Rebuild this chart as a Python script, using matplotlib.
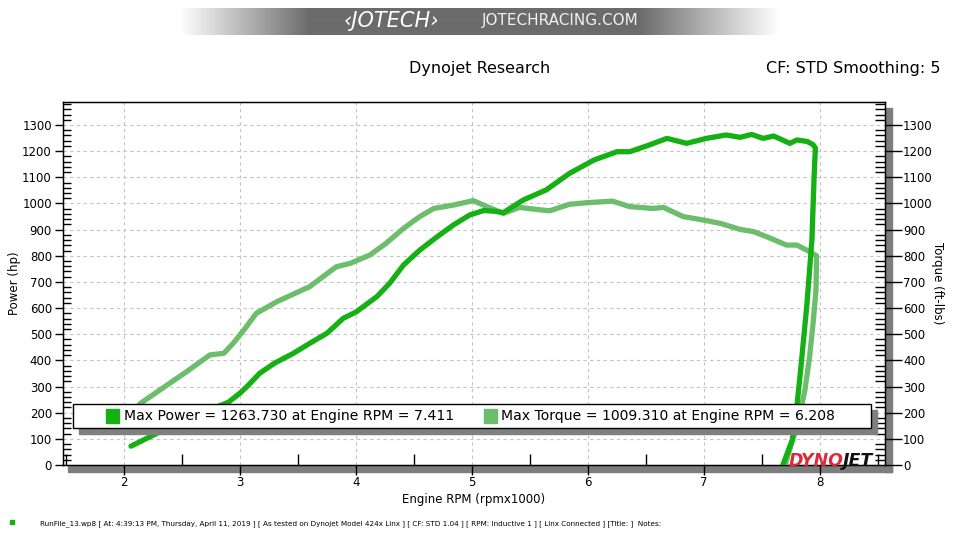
import numpy as np
import matplotlib
matplotlib.use("Agg")
import matplotlib.pyplot as plt
from matplotlib.patches import Rectangle
from matplotlib.ticker import MultipleLocator, FixedLocator

# ---------------- data ----------------
rpm_power = [2.06, 2.31, 2.50, 2.80, 2.90, 3.00, 3.06, 3.17, 3.30, 3.46, 3.60, 3.75,
             3.89, 4.00, 4.18, 4.29, 4.41, 4.55, 4.70, 4.84, 4.98, 5.10, 5.20, 5.27,
             5.44, 5.64, 5.84, 6.05, 6.25, 6.36, 6.53, 6.68, 6.85, 7.02, 7.19, 7.31,
             7.41, 7.51, 7.60, 7.74, 7.80, 7.89, 7.94, 7.96, 7.95, 7.93, 7.885, 7.83,
             7.80, 7.76, 7.68]
power_hp = [72, 127, 170, 222, 240, 275, 300, 351, 390, 427, 465, 504,
            561, 585, 644, 695, 765, 822, 873, 918, 956, 973, 970, 965,
            1013, 1052, 1115, 1166, 1198, 1198, 1224, 1249, 1230, 1249, 1262, 1253,
            1264, 1249, 1258, 1230, 1243, 1237, 1225, 1212, 1115, 860, 605, 351,
            223, 96, 0]

rpm_torque = [2.06, 2.14, 2.31, 2.54, 2.74, 2.86, 2.94, 3.04, 3.14, 3.32, 3.60, 3.83,
              3.95, 4.12, 4.26, 4.41, 4.55, 4.67, 4.84, 5.01, 5.13, 5.27, 5.41, 5.56,
              5.67, 5.84, 5.99, 6.21, 6.36, 6.56, 6.65, 6.82, 6.99, 7.14, 7.31, 7.43,
              7.54, 7.71, 7.80, 7.91, 7.97, 7.965, 7.94, 7.91, 7.87, 7.81, 7.72, 7.70]
torque_ftlb = [185, 235, 287, 357, 421, 427, 465, 520, 580, 625, 682, 758,
               771, 803, 848, 905, 950, 981, 994, 1011, 988, 962, 985, 977,
               972, 997, 1003, 1009, 988, 981, 985, 950, 937, 924, 901, 892,
               873, 841, 841, 816, 800, 669, 542, 414, 287, 160, 32, 0]

x_ticks = [2, 3, 4, 5, 6, 7, 8]
y_ticks = list(range(0, 1400, 100))

legend_power = "Max Power = 1263.730 at Engine RPM = 7.411"
legend_torque = "Max Torque = 1009.310 at Engine RPM = 6.208"
footnote = ("RunFile_13.wp8 [ At: 4:39:13 PM, Thursday, April 11, 2019 ] "
            "[ As tested on Dynojet Model 424x Linx ] [ CF: STD 1.04 ] "
            "[ RPM: Inductive 1 ] [ Linx Connected ] [Title: ]  Notes:")

# ---------------- style ----------------
C_POWER = "#14b014"
C_TORQUE = "#6cbd6c"
W, H = 960, 540

plt.rcParams["font.family"] = ["DejaVu Sans"]
fig = plt.figure(figsize=(9.6, 5.4), dpi=100)
fig.patch.set_facecolor("white")

def fx(px):
    return px / W

def fy(py):
    return 1 - py / H

ax_l, ax_r, ax_t, ax_b = 63, 885, 101.5, 465
# shadows behind the axes
fig.patches.append(Rectangle((fx(68), fy(472)), fx(892) - fx(68), (472 - 465) / H,
                             transform=fig.transFigure, color="#7d7d7d", zorder=0))
fig.patches.append(Rectangle((fx(885), fy(472)), (892 - 885) / W, (472 - 108) / H,
                             transform=fig.transFigure, color="#7d7d7d", zorder=0))

ax = fig.add_axes([fx(ax_l), fy(ax_b), (ax_r - ax_l) / W, (ax_b - ax_t) / H])
ax.set_zorder(2)
ax.set_xlim(1.474, 8.56)
ax.set_ylim(0, 1390)

ax.plot(rpm_torque, torque_ftlb, color=C_TORQUE, lw=3.8, solid_joinstyle="round",
        solid_capstyle="round", zorder=3)
ax.plot(rpm_power, power_hp, color=C_POWER, lw=3.8, solid_joinstyle="round",
        solid_capstyle="round", zorder=4)

# grid
for xv in x_ticks:
    ax.axvline(xv, color="#c4c4c4", lw=0.8, ls=(0, (3, 3)), zorder=1)
for yv in y_ticks[1:]:
    ax.axhline(yv, color="#c4c4c4", lw=0.8, ls=(0, (3, 3)), zorder=1)

for s in ax.spines.values():
    s.set_color("black")
    s.set_linewidth(1.0)

ax.xaxis.set_major_locator(FixedLocator(x_ticks))
ax.xaxis.set_minor_locator(FixedLocator([1.5, 2.5, 3.5, 4.5, 5.5, 6.5, 7.5, 8.5]))
ax.yaxis.set_major_locator(FixedLocator(y_ticks))
ax.yaxis.set_minor_locator(MultipleLocator(20))
ax.tick_params(axis="x", which="major", direction="out", length=7, width=1,
               labelsize=8.5, pad=1)
ax.tick_params(axis="x", which="minor", direction="in", length=8, width=1)
ax.tick_params(axis="y", which="major", direction="out", length=6, width=1,
               labelsize=8.5, pad=2)
ax.tick_params(axis="y", which="minor", direction="in", length=6, width=1)
ax.set_xlabel("Engine RPM (rpmx1000)", fontsize=8.5, labelpad=3)
ax.set_ylabel("Power (hp)", fontsize=8.5, labelpad=1)

ax2 = ax.twinx()
ax2.set_ylim(ax.get_ylim())
ax2.yaxis.set_major_locator(FixedLocator(y_ticks))
ax2.yaxis.set_minor_locator(MultipleLocator(20))
ax2.tick_params(axis="y", which="major", direction="out", length=12, width=1,
                labelsize=8.5, pad=1)
ax2.tick_params(axis="y", which="minor", direction="in", length=7, width=1)
ax2.set_ylabel("Torque (ft-lbs)", fontsize=8.5, rotation=270, labelpad=8)
for s in ax2.spines.values():
    s.set_color("black")

# legend box with shadow (figure coords)
lx0, lx1, ly0, ly1 = 73, 871, 404, 427.5
fig.patches.append(Rectangle((fx(lx0 + 6), fy(ly1 + 6)), (lx1 - lx0) / W, (ly1 - ly0) / H,
                             transform=fig.transFigure, color="#808080", zorder=5))
fig.patches.append(Rectangle((fx(lx0), fy(ly1)), (lx1 - lx0) / W, (ly1 - ly0) / H,
                             transform=fig.transFigure, facecolor="white",
                             edgecolor="black", lw=1.0, zorder=6))
ymid = fy((ly0 + ly1) / 2)
fig.patches.append(Rectangle((fx(106), fy(423)), 13 / W, 14 / H, transform=fig.transFigure,
                             color=C_POWER, zorder=7))
fig.text(fx(124), ymid, legend_power, fontsize=10.1, va="center", ha="left", zorder=7)
fig.patches.append(Rectangle((fx(484), fy(423)), 13 / W, 14 / H, transform=fig.transFigure,
                             color=C_TORQUE, zorder=7))
fig.text(fx(501), ymid, legend_torque, fontsize=10.1, va="center", ha="left", zorder=7)

# DYNOJET logo
fig.text(fx(844), fy(466), "DYNO", fontsize=12.5, fontweight="bold", fontstyle="italic",
         color="#d92b3a", ha="right", va="baseline", zorder=8)
fig.text(fx(843), fy(466), "JET", fontsize=12.5, fontweight="bold", fontstyle="italic",
         color="#111111", ha="left", va="baseline", zorder=8)

# titles
fig.text(fx(480), fy(68), "Dynojet Research", fontsize=11.5, ha="center", va="center")
fig.text(fx(940), fy(68), "CF: STD Smoothing: 5", fontsize=11.5, ha="right", va="center")

# top banner (gradient band)
bax = fig.add_axes([fx(180), fy(35), 600 / W, 27 / H])
bx = np.linspace(180, 780, 600)
shade = np.interp(bx, [180, 310, 640, 780], [1.0, 0.42, 0.42, 1.0])
img = np.tile(shade, (10, 1))
bax.imshow(img, cmap="gray", vmin=0, vmax=1, aspect="auto", extent=[0, 1, 0, 1])
bax.set_axis_off()
fig.text(fx(392), fy(21), "\u2039JOTECH\u203a", fontsize=15, fontstyle="italic",
         color="white", ha="center", va="center", zorder=9)
fig.text(fx(560), fy(21), "JOTECHRACING.COM", fontsize=11, color="#f0f0f0",
         ha="center", va="center", zorder=9)

# footnote
fig.patches.append(Rectangle((fx(10), fy(524)), 4 / W, 4 / H, transform=fig.transFigure,
                             color=C_POWER))
fig.text(fx(40), fy(524), footnote, fontsize=5.2, ha="left", va="center")

fig.savefig("out.png", dpi=100)
